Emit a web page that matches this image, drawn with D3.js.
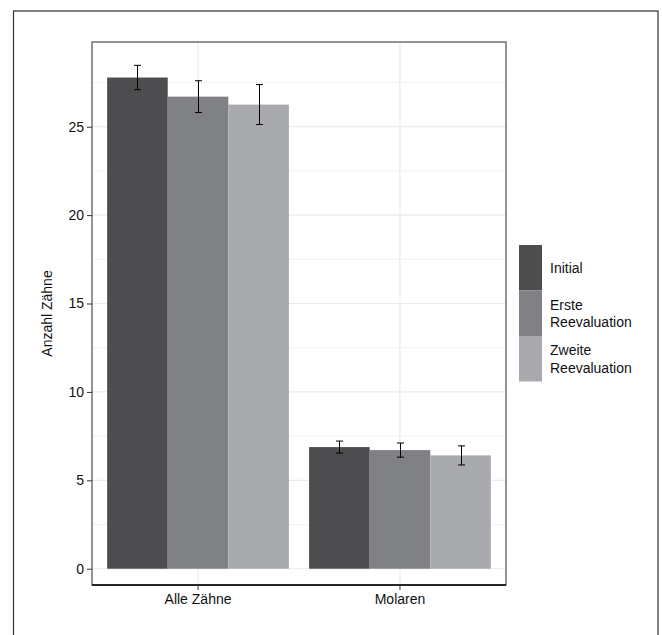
<!DOCTYPE html>
<html><head><meta charset="utf-8">
<script src="https://cdn.jsdelivr.net/npm/d3@7"></script>
<style>body{margin:0;background:#fff}svg text{font-family:"Liberation Sans","Arial",sans-serif}</style>
</head><body><svg id="c" width="662" height="635"></svg>
<script>
const categories = ["Alle Zähne", "Molaren"];
const seriesNames = ["Initial", "Erste Reevaluation", "Zweite Reevaluation"];
const legendLines = [["Initial"], ["Erste", "Reevaluation"], ["Zweite", "Reevaluation"]];
const meanInitial = [27.78, 6.88];
const meanErste = [26.70, 6.71];
const meanZweite = [26.25, 6.41];
const errInitial = [0.69, 0.34];
const errErste = [0.90, 0.40];
const errZweite = [1.13, 0.54];
const yTicks = [0, 5, 10, 15, 20, 25];
const colors = ["#4d4d4f", "#808184", "#a9aaad"];

const means = [meanInitial, meanErste, meanZweite];
const errs = [errInitial, errErste, errZweite];
const svg = d3.select("#c");
const L = 92, R = 506, T = 42, B = 585;
const txt = "#111";

// outer frame
svg.append("rect").attr("x", 13.5).attr("y", 11).attr("width", 644.5).attr("height", 640)
  .attr("fill", "none").attr("stroke", "#333").attr("stroke-width", 1.2);

const x = d3.scaleBand().domain(categories).range([L, R]).paddingInner(0.1).paddingOuter(0.075);
const xs = d3.scaleBand().domain(seriesNames).range([0, x.bandwidth()]);
const y = d3.scaleLinear().domain([-0.92, 29.79]).range([B, T]);

const g = svg.append("g");
const minor = d3.range(2.5, 30, 5);
g.selectAll(".mg").data(minor).join("line")
  .attr("x1", L).attr("x2", R).attr("y1", d => y(d)).attr("y2", d => y(d))
  .attr("stroke", "#f2f2f2").attr("stroke-width", 1);
g.selectAll(".yg").data(yTicks).join("line")
  .attr("x1", L).attr("x2", R).attr("y1", d => y(d)).attr("y2", d => y(d))
  .attr("stroke", "#ebebeb").attr("stroke-width", 1.2);
g.selectAll(".xg").data(categories).join("line")
  .attr("x1", d => x(d) + x.bandwidth() / 2).attr("x2", d => x(d) + x.bandwidth() / 2)
  .attr("y1", T).attr("y2", B).attr("stroke", "#ebebeb").attr("stroke-width", 1.2);

seriesNames.forEach((s, si) => {
  g.selectAll(".b" + si).data(categories).join("rect")
    .attr("x", d => x(d) + xs(s)).attr("width", xs.bandwidth())
    .attr("y", (d, i) => y(means[si][i])).attr("height", (d, i) => y(0) - y(means[si][i]))
    .attr("fill", colors[si]);
});
seriesNames.forEach((s, si) => {
  categories.forEach((c, i) => {
    const cx = Math.round(x(c) + xs(s) + xs.bandwidth() / 2) + 0.5;
    const y1 = y(means[si][i] + errs[si][i]), y2 = y(means[si][i] - errs[si][i]);
    g.append("line").attr("x1", cx).attr("x2", cx).attr("y1", y1).attr("y2", y2).attr("stroke", "#000").attr("stroke-width", 1);
    [y1, y2].forEach(yy => g.append("line").attr("x1", cx - 3.5).attr("x2", cx + 3.5).attr("y1", yy).attr("y2", yy).attr("stroke", "#000").attr("stroke-width", 1));
  });
});

svg.append("rect").attr("x", L).attr("y", T).attr("width", R - L).attr("height", B - T)
  .attr("fill", "none").attr("stroke", "#666").attr("stroke-width", 1.4);
svg.append("line").attr("x1", L).attr("x2", R).attr("y1", B).attr("y2", B).attr("stroke", "#000").attr("stroke-width", 1.4);

const ya = svg.append("g").attr("transform", `translate(${L},0)`)
  .call(d3.axisLeft(y).tickValues(yTicks).tickSize(5).tickPadding(3).tickFormat(d3.format("d")));
ya.select(".domain").remove();
ya.selectAll("line").attr("stroke", "#333");
ya.selectAll("text").attr("font-size", 14).attr("fill", txt);

const xa = svg.append("g").attr("transform", `translate(0,${B})`)
  .call(d3.axisBottom(x).tickSize(5).tickPadding(4));
xa.select(".domain").remove();
xa.selectAll("line").attr("stroke", "#333");
xa.selectAll("text").attr("font-size", 14).attr("fill", txt);

svg.append("text").attr("transform", `translate(52,${(T + B) / 2}) rotate(-90)`)
  .attr("text-anchor", "middle").attr("font-size", 14).attr("fill", txt).text("Anzahl Zähne");

const lg = svg.append("g");
const kx = 519, ky = 245, kh = 45.5, kw = 23;
seriesNames.forEach((s, si) => {
  lg.append("rect").attr("x", kx).attr("y", ky + si * kh).attr("width", kw).attr("height", kh).attr("fill", colors[si]);
  const lines = legendLines[si];
  const cy = ky + si * kh + kh / 2;
  lines.forEach((ln, li) => {
    lg.append("text").attr("x", 550).attr("y", cy + (li - (lines.length - 1) / 2) * 17.5 + 5)
      .attr("font-size", 14).attr("fill", txt).text(ln);
  });
});
</script></body></html>
